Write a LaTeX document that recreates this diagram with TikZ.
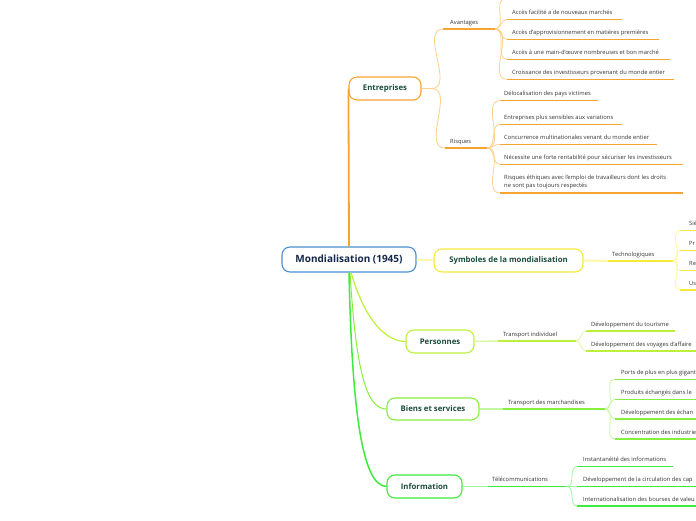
\documentclass[tikz,border=0pt]{standalone}
\usepackage{fontspec}
\setmainfont{Open Sans}
\definecolor{rootbd}{HTML}{4A90D0}
\definecolor{roottx}{HTML}{14284B}
\definecolor{boxtx}{HTML}{1B4D3E}
\definecolor{leaftx}{HTML}{333333}
\definecolor{orA}{HTML}{F7A432}
\definecolor{orL}{HTML}{FFD08A}
\definecolor{yeA}{HTML}{F5EA3A}
\definecolor{yeL}{HTML}{FFF7A8}
\definecolor{liA}{HTML}{BDF03C}
\definecolor{liL}{HTML}{DDF7A0}
\definecolor{grA}{HTML}{86F03C}
\definecolor{grL}{HTML}{C4F7A0}
\definecolor{gnA}{HTML}{3CEB3C}
\definecolor{gnL}{HTML}{A0F5A0}
\begin{document}
\begin{tikzpicture}[x=1pt,y=-1pt,
  topbox/.style={draw, rounded corners=8pt, fill=white, minimum height=23pt,
    line width=1.1pt, font=\fontsize{7.8}{9}\selectfont\bfseries, text=boxtx, inner sep=0pt},
  leaf/.style={anchor=base west, inner sep=0pt, font=\fontsize{5.8}{8.4}\selectfont, text=leaftx},
  ul/.style={line width=1.4pt},
  fan/.style={line width=0.8pt},
]
\useasboundingbox (0,0) rectangle (696,520);
\clip (0,0) rectangle (696,520);

% ---------- root and main topics ----------
\node[topbox, draw=rootbd, text=roottx, minimum width=134pt, minimum height=25pt,
      font=\fontsize{10}{12}\selectfont\bfseries] (root) at (349,259.5) {Mondialisation (1945)};
\node[topbox, draw=orA, minimum width=72pt] (ent) at (385,88.5) {Entreprises};
\node[topbox, draw=yeA, minimum width=149pt] (sym) at (508.5,260.5) {Symboles de la mondialisation};
\node[topbox, draw=liA, minimum width=68pt] (pers) at (440,341.5) {Personnes};
\node[topbox, draw=grA, minimum width=92pt, minimum height=22pt] (bien) at (433,409) {Biens et services};
\node[topbox, draw=gnA, minimum width=75pt] (info) at (424.5,486.5) {Information};

\draw[orA, line width=1.8pt] (root.north) -- (ent.west);
\draw[yeL, line width=2pt] (root.east) -- (sym.west);
\draw[liA, line width=1.2pt] ([xshift=2pt]root.south) .. controls (365,320) and (385,341) .. (pers.west);
\draw[grA, line width=1pt] ([xshift=1pt]root.south) .. controls (356,370) and (366,409) .. (bien.west);
\draw[gnA, line width=1.5pt] (root.south) .. controls (352,410) and (362,486) .. (info.west);

% ---------- Entreprises ----------
\coordinate (avs) at (443,29);  \coordinate (avf) at (495,29);
\coordinate (rqs) at (445,148); \coordinate (rqf) at (487,148);
\node[leaf] (av) at (450,24) {Avantages};
\node[leaf] (rq) at (450,143.5) {Risques};
\draw[orL, fan] (ent.east) -- ++(10,0) to[out=0,in=180] (avs);
\draw[orL, fan] (ent.east) -- ++(10,0) to[out=0,in=180] (rqs);
\draw[orA, ul] (avs) -- (avf);
\draw[orA, ul] (rqs) -- (rqf);

\coordinate (a0s) at (505,-1); \coordinate (a0e) at (640,-1);
\draw[orL, fan] (avf) to[out=0,in=180] (a0s);
\draw[orA, ul] (a0s) -- (a0e);
\foreach \n/\y/\e/\t in {
  1/19.3/622/{Accès facilité a de nouveaux marchés},
  2/39.3/659/{Accès d'approvisionnement en matières premières},
  3/59.3/670/{Accès à une main-d'œuvre nombreuses et bon marché},
  4/79.3/674/{Croissance des investisseurs provenant du monde entier}}{
  \coordinate (a\n s) at (507,\y); \coordinate (a\n e) at (\e,\y);
  \node[leaf] (a\n) at (512,\y-5) {\t};
  \draw[orL, fan] (avf) to[out=0,in=180] (a\n s);
  \draw[orA, ul] (a\n s) -- (a\n e);
}
\foreach \n/\y/\e/\t in {
  1/100.7/598/{Délocalisation des pays victimes},
  2/124.3/622/{Entreprises plus sensibles aux variations},
  3/144.3/657/{Concurrence multinationales venant du monde entier},
  4/164.3/683/{Nécessite une forte rentabilité pour sécuriser les investisseurs}}{
  \coordinate (r\n s) at (500,\y); \coordinate (r\n e) at (\e,\y);
  \node[leaf] (r\n) at (504,\y-5) {\t};
  \draw[orL, fan] (rqf) to[out=0,in=180] (r\n s);
  \draw[orA, ul] (r\n s) -- (r\n e);
}
\coordinate (r5s) at (500,193); \coordinate (r5e) at (683,193);
\node[leaf, align=left] (r5) at (504,187.5) {Risques éthiques avec l'emploi de travailleurs dont les droits\\ne sont pas toujours respectés};
\draw[orL, fan] (rqf) to[out=0,in=180] (r5s);
\draw[orA, ul] (r5s) -- (r5e);

% ---------- Symboles ----------
\coordinate (tes) at (608,261); \coordinate (tef) at (673,261);
\node[leaf] (te) at (612,256) {Technologiques};
\draw[yeL, line width=2pt] (sym.east) -- (tes);
\draw[yeA, ul] (tes) -- (tef);
\foreach \n/\y/\t in {1/230.7/{Siè}, 2/250.5/{Pr}, 3/270.7/{Re}, 4/290/{Us}}{
  \coordinate (t\n s) at (680,\y); \coordinate (t\n e) at (700,\y);
  \node[leaf] (t\n) at (689,\y-5) {\t};
  \draw[yeL, fan, line width=1pt] (tef) to[out=0,in=180] (t\n s);
  \draw[yeA, ul] (t\n s) -- (t\n e);
}

% ---------- Personnes ----------
\coordinate (tis) at (498,341); \coordinate (tif) at (576,341);
\node[leaf] (ti) at (503,336) {Transport individuel};
\draw[liL, line width=1.5pt] (pers.east) -- (tis);
\draw[liA, ul] (tis) -- (tif);
\foreach \n/\y/\e/\t in {1/331/675/{Développement du tourisme}, 2/351/700/{Développement des voyages d'affaire}}{
  \coordinate (p\n s) at (586,\y); \coordinate (p\n e) at (\e,\y);
  \node[leaf] (p\n) at (591,\y-5) {\t};
  \draw[liL, fan] (tif) to[out=0,in=180] (p\n s);
  \draw[liA, ul] (p\n s) -- (p\n e);
}

% ---------- Biens et services ----------
\coordinate (tms) at (503,409); \coordinate (tmf) at (605,409);
\node[leaf] (tm) at (508,404) {Transport des marchandises};
\draw[grL, line width=1.5pt] (bien.east) -- (tms);
\draw[grA, ul] (tms) -- (tmf);
\foreach \n/\y/\t in {1/379.3/{Ports de plus en plus gigant}, 2/399.3/{Produits échangés dans le},
   3/419/{Développement des échan}, 4/439/{Concentration des industrie}}{
  \coordinate (b\n s) at (615,\y); \coordinate (b\n e) at (700,\y);
  \node[leaf] (b\n) at (621,\y-5) {\t};
  \draw[grL, fan] (tmf) to[out=0,in=180] (b\n s);
  \draw[grA, ul] (b\n s) -- (b\n e);
}

% ---------- Information ----------
\coordinate (tcs) at (488,486.5); \coordinate (tcf) at (567,486.5);
\node[leaf] (tc) at (492,481.5) {Télécommunications};
\draw[gnL, line width=1.5pt] (info.east) -- (tcs);
\draw[gnA, ul] (tcs) -- (tcf);
\foreach \n/\y/\e/\t in {1/466.7/673/{Instantanéité des informations},
   2/486.7/700/{Développement de la circulation des cap},
   3/506/700/{Internationalisation des bourses de valeu}}{
  \coordinate (i\n s) at (577,\y); \coordinate (i\n e) at (\e,\y);
  \node[leaf] (i\n) at (583,\y-5) {\t};
  \draw[gnL, fan] (tcf) to[out=0,in=180] (i\n s);
  \draw[gnA, ul] (i\n s) -- (i\n e);
}
\end{tikzpicture}
\end{document}
